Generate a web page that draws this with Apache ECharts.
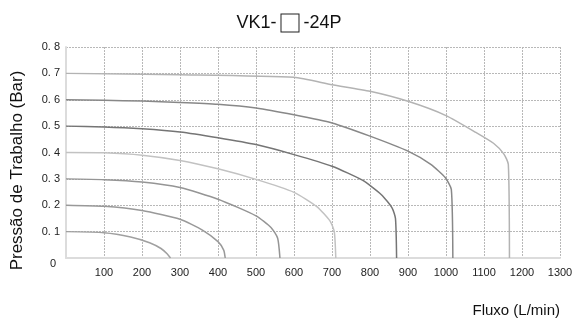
<!DOCTYPE html>
<html>
<head>
<meta charset="utf-8">
<script src="https://cdn.jsdelivr.net/npm/echarts@6/dist/echarts.min.js"></script>
<style>
  html, body { margin: 0; padding: 0; background: #fff; }
  #chart { width: 578px; height: 320px; }
</style>
</head>
<body>
<div id="chart"></div>
<script>
// curves: [flow L/min, pressure bar]
const curve01 = [[0, 0.1], [100, 0.096], [170, 0.08], [220, 0.058], [250, 0.036], [266, 0.016], [275, 0]];
const curve02 = [[0, 0.2], [100, 0.196], [200, 0.18], [300, 0.147], [360, 0.105], [400, 0.062], [415, 0.03], [419, 0]];
const curve03 = [[0, 0.3], [100, 0.297], [200, 0.288], [300, 0.267], [400, 0.223], [500, 0.16], [540, 0.115], [557, 0.075], [563, 0]];
const curve04 = [[0, 0.4], [100, 0.399], [200, 0.39], [300, 0.37], [400, 0.338], [500, 0.298], [600, 0.249], [660, 0.195], [695, 0.14], [706, 0.1], [710, 0]];
const curve05 = [[0, 0.5], [100, 0.497], [200, 0.49], [300, 0.478], [400, 0.456], [500, 0.43], [600, 0.392], [700, 0.348], [780, 0.295], [830, 0.24], [858, 0.19], [867, 0.15], [870, 0]];
const curve06 = [[0, 0.6], [100, 0.598], [200, 0.595], [300, 0.59], [400, 0.583], [500, 0.569], [600, 0.543], [700, 0.512], [800, 0.462], [900, 0.405], [960, 0.355], [998, 0.305], [1014, 0.26], [1018, 0]];
const curve07 = [[0, 0.7], [300, 0.695], [600, 0.685], [700, 0.657], [800, 0.632], [900, 0.594], [1000, 0.54], [1080, 0.475], [1125, 0.435], [1152, 0.395], [1164, 0.355], [1167, 0]];

const curves = [curve01, curve02, curve03, curve04, curve05, curve06, curve07];
const curveColors = ['#a0a0a0', '#999999', '#959595', '#c2c2c2', '#757575', '#888888', '#b3b3b3'];

const xTicks = { min: 0, max: 1300, step: 100 };
const yTicks = { min: 0, max: 0.8, step: 0.1 };

const chart = echarts.init(document.getElementById('chart'));

const dotted = { show: true, lineStyle: { color: '#b8b8b8', type: [2, 1], width: 1 } };

chart.setOption({
  animation: false,
  title: {
    text: 'VK1- {box|} -24P',
    left: 'center',
    top: 9,
    textStyle: {
      fontFamily: 'Liberation Sans, Arial',
      fontWeight: 'normal',
      fontSize: 18,
      color: '#111',
      rich: {
        box: { width: 17, height: 17, borderColor: '#222', borderWidth: 1, backgroundColor: '#fff' }
      }
    }
  },
  grid: { left: 66, right: 18, top: 47, bottom: 62 },
  xAxis: {
    type: 'value',
    min: xTicks.min,
    max: xTicks.max,
    interval: xTicks.step,
    name: 'Fluxo (L/min)',
    nameLocation: 'end',
    nameGap: 0,
    nameTextStyle: {
      fontFamily: 'Liberation Sans, Arial',
      fontSize: 15,
      color: '#111',
      align: 'right',
      verticalAlign: 'top',
      padding: [45, 0, 0, 0]
    },
    axisLine: { show: true, lineStyle: { color: '#dcdcdc', width: 2 } },
    axisTick: { show: false },
    axisLabel: {
      margin: 9,
      fontFamily: 'Liberation Sans, Arial',
      fontSize: 11,
      color: '#222',
      formatter: v => (v === 0 ? '' : String(v))
    },
    splitLine: dotted
  },
  yAxis: {
    type: 'value',
    min: yTicks.min,
    max: yTicks.max,
    interval: yTicks.step,
    name: 'Pressão de Trabalho (Bar)',
    nameLocation: 'middle',
    nameGap: 40,
    nameTextStyle: {
      fontFamily: 'Liberation Sans, Arial',
      fontSize: 17,
      color: '#111',
      padding: [0, 36, 0, 0]
    },
    axisLine: { show: true, lineStyle: { color: '#dcdcdc', width: 2 } },
    axisTick: { show: false },
    axisLabel: {
      margin: 6,
      fontFamily: 'Liberation Sans, Arial',
      fontSize: 11,
      color: '#222',
      formatter: v => (v === 0 ? '{z|0}' : v.toFixed(1).replace('.', '. ')),
      rich: {
        z: { fontSize: 11, color: '#222', padding: [12, 4, 0, 0] }
      }
    },
    splitLine: dotted
  },
  series: curves.map((c, i) => ({
    type: 'line',
    data: c,
    symbol: 'none',
    smooth: 0.2,
    lineStyle: { color: curveColors[i], width: 1.5 }
  }))
});
</script>
</body>
</html>
